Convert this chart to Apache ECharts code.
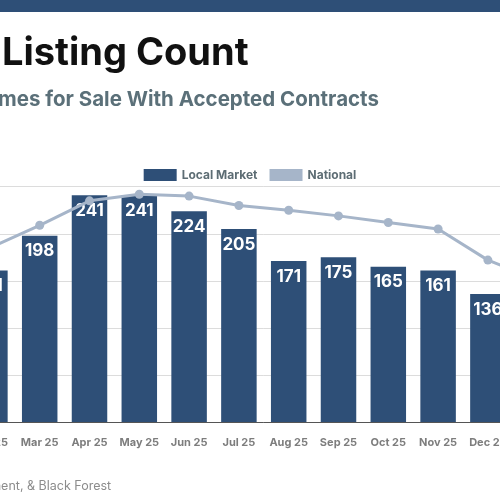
<!DOCTYPE html>
<html>
<head>
<meta charset="utf-8">
<script src="https://cdn.jsdelivr.net/npm/echarts@6/dist/echarts.min.js"></script>
<style>
html,body{margin:0;padding:0;width:500px;height:500px;overflow:hidden;background:#fff;}
#chart{position:absolute;left:-200px;top:0;width:900px;height:500px;}
</style>
</head>
<body>
<div id="chart"></div>
<script>
// months shown (the picture is a crop of a wider chart)
var months = ['Feb 25','Mar 25','Apr 25','May 25','Jun 25','Jul 25','Aug 25','Sep 25','Oct 25','Nov 25','Dec 25','Jan 26'];
var localMarket = [161,198,241,241,224,205,171,175,165,161,136,null];
var national = [185,209,235,242,240,230,225,219,212,205,172,151];
var yTicks = [0,50,100,150,200,250];

var titleText = 'Pending Listing Count';
var subText = 'Homes for Sale With Accepted Contracts';
var sourceText = 'Source: Colorado Springs, Monument, & Black Forest';

var shift = 200; // chart div sits 200px left of the window

function textW(str, font){
	var c = document.createElement('canvas').getContext('2d');
	c.font = font;
	return c.measureText(str).width;
}

var FONT = 'Inter';
var titleSize = 38, subSize = 20.5, srcSize = 12.5;
var titleLeft = shift - 3 - textW('Pending ', 'bold '+titleSize+'px '+FONT);
var subLeft = shift - 7 - textW('Ho', 'bold '+subSize+'px '+FONT);
var srcLeft = shift + 22 - textW('Source: Colorado Springs, Monument, ', srcSize+'px '+FONT);

var myChart = echarts.init(document.getElementById('chart'));

var option = {
	backgroundColor: '#fff',
	textStyle: {fontFamily: FONT},
	graphic: [
		{type:'rect', left:0, top:0, shape:{width:900, height:12}, style:{fill:'#2e4f77'}}
	],
	title: [
		{text: titleText, left: titleLeft, top: 30,
			textStyle:{fontFamily:FONT, fontSize:titleSize, fontWeight:'bold', color:'#111'}},
		{text: subText, left: subLeft, top: 84,
			textStyle:{fontFamily:FONT, fontSize:subSize, fontWeight:'bold', color:'#5b7079'}},
		{text: sourceText, left: srcLeft, top: 475,
			textStyle:{fontFamily:FONT, fontSize:srcSize, fontWeight:'normal', color:'#8c8c8c'}}
	],
	legend: {
		left: 'center', top: 164,
		itemWidth: 33, itemHeight: 12, itemGap: 12,
		textStyle: {fontFamily:FONT, fontSize:12, fontWeight:'bold', color:'#5d6d74'},
		data: [
			{name:'Local Market', icon:'rect'},
			{name:'National', icon:'rect', itemStyle:{color:'#a6b5c9'}}
		]
	},
	grid: {left: 165, right: 137.4, top: 186.7, bottom: 78},
	xAxis: {
		type: 'category',
		data: months,
		axisTick: {show:false},
		axisLine: {lineStyle:{color:'#555', width:1}},
		axisLabel: {interval:0, margin:15, fontFamily:FONT, fontSize:11, fontWeight:'bold', color:'#7d7d7d'}
	},
	yAxis: {
		type: 'value',
		min: yTicks[0], max: yTicks[yTicks.length-1], interval: 50,
		axisLabel: {show:false},
		axisLine: {show:false},
		axisTick: {show:false},
		splitLine: {lineStyle:{color:'#dcdcdc', width:1}}
	},
	series: [
		{
			name: 'Local Market',
			type: 'bar',
			data: localMarket,
			barWidth: 35.5,
			itemStyle: {color:'#2e4f77'},
			label: {show:true, position:'insideTop', distance:7, color:'#fff',
				fontFamily:FONT, fontSize:17, fontWeight:'bold'},
			z: 2
		},
		{
			name: 'National',
			type: 'line',
			data: national,
			symbol: 'circle',
			symbolSize: 9,
			lineStyle: {color:'#a6b5c9', width:3},
			itemStyle: {color:'#a6b5c9'},
			z: 3
		}
	]
};

myChart.setOption(option);
</script>
</body>
</html>
